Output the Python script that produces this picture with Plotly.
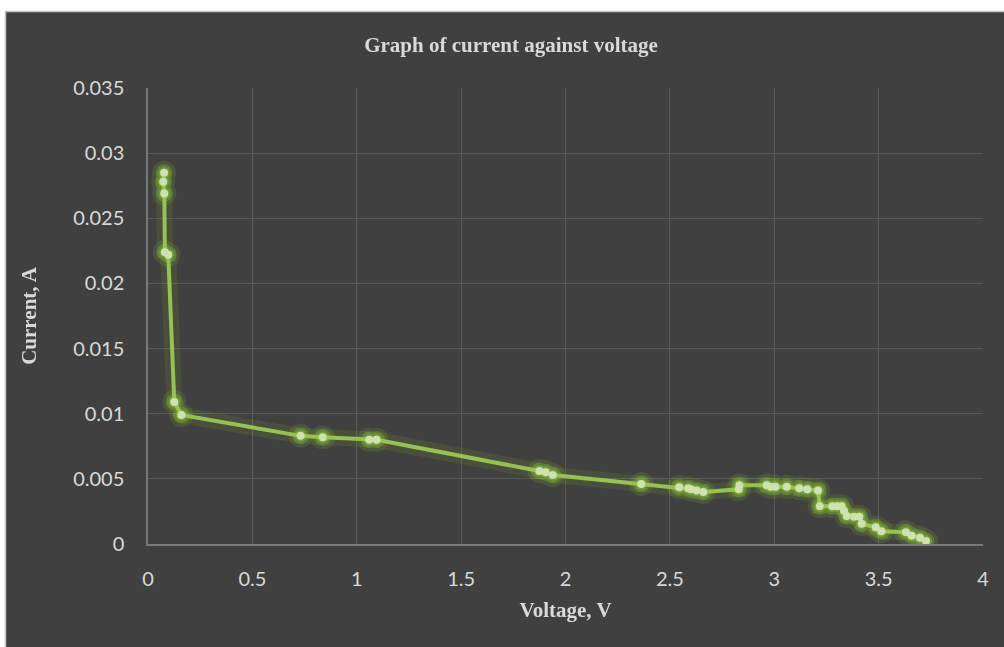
import plotly.graph_objects as go

# Measured I-V readings (in order of measurement)
voltage = [0.077, 0.073, 0.078, 0.081, 0.097, 0.126, 0.160, 0.731, 0.837, 1.060,
           1.095, 1.875, 1.905, 1.939, 2.363, 2.545, 2.588, 2.601, 2.628, 2.660,
           2.830, 2.833, 2.964, 2.983, 3.005, 3.060, 3.120, 3.158, 3.210, 3.218,
           3.278, 3.302, 3.323, 3.334, 3.347, 3.382, 3.408, 3.419, 3.486, 3.513,
           3.631, 3.658, 3.698, 3.727]
current = [0.0285, 0.0278, 0.0269, 0.0224, 0.0222, 0.0109, 0.0099, 0.0083, 0.0082, 0.0080,
           0.0080, 0.0056, 0.0055, 0.0053, 0.0046, 0.00435, 0.00427, 0.0042, 0.0041, 0.0040,
           0.0042, 0.0045, 0.0045, 0.0044, 0.0044, 0.0044, 0.00427, 0.0042, 0.0041, 0.0029,
           0.0029, 0.0029, 0.0029, 0.00256, 0.00215, 0.0021, 0.0021, 0.00156, 0.00128, 0.00097,
           0.0009, 0.00064, 0.00048, 0.00023]

x_ticks = [0, 0.5, 1, 1.5, 2, 2.5, 3, 3.5, 4]
x_tick_text = ["0", "0.5", "1", "1.5", "2", "2.5", "3", "3.5", "4"]
y_ticks = [0, 0.005, 0.01, 0.015, 0.02, 0.025, 0.03, 0.035]
y_tick_text = ["0", "0.005", "0.01", "0.015", "0.02", "0.025", "0.03", "0.035"]

W, H = 1004, 647
L, R, T, B = 148, 21, 88, 103
pw, ph = W - L - R, H - T - B

BG = "#404040"
TXT = "#d9d9d9"
GLOW = "#8fd42c"

fig = go.Figure()

# soft glow around the series
fig.add_trace(go.Scatter(x=voltage, y=current, mode="lines",
                         line=dict(color=GLOW, width=16), opacity=0.10,
                         hoverinfo="skip", showlegend=False))
fig.add_trace(go.Scatter(x=voltage, y=current, mode="markers",
                         marker=dict(color=GLOW, size=24, line=dict(width=0)), opacity=0.14,
                         hoverinfo="skip", showlegend=False))
fig.add_trace(go.Scatter(x=voltage, y=current, mode="markers",
                         marker=dict(color=GLOW, size=17, line=dict(width=0)), opacity=0.28,
                         hoverinfo="skip", showlegend=False))
fig.add_trace(go.Scatter(x=voltage, y=current, mode="markers",
                         marker=dict(color=GLOW, size=12, line=dict(width=0)), opacity=0.35,
                         hoverinfo="skip", showlegend=False))

# main line with markers
fig.add_trace(go.Scatter(x=voltage, y=current, mode="lines",
                         line=dict(color="#95c44e", width=4),
                         showlegend=False))
fig.add_trace(go.Scatter(x=voltage, y=current, mode="markers",
                         marker=dict(color="#cde2b0", size=8, line=dict(width=0)),
                         showlegend=False))

def px(xp):
    return (xp - L) / pw

def py(yp):
    return (H - B - yp) / ph

# dark chart area with thin light border, white outside
fig.add_shape(type="rect", xref="paper", yref="paper",
              x0=px(5.5), x1=px(W + 10), y0=py(H + 10), y1=py(11.5),
              fillcolor=BG, line=dict(color="#c4c4c4", width=1.5), layer="below")

fig.update_layout(
    width=W, height=H,
    margin=dict(l=L, r=R, t=T, b=B),
    paper_bgcolor="white",
    plot_bgcolor="rgba(0,0,0,0)",
    title=dict(text="<b>Graph of current against voltage</b>",
               x=511 / W, xref="container", xanchor="center",
               y=1 - 45 / H, yref="container", yanchor="middle",
               font=dict(family="Liberation Serif", size=21, color=TXT)),
    xaxis=dict(range=[0, 4], tickvals=x_ticks, ticktext=x_tick_text,
               showgrid=True, gridcolor="#5a5a5a", gridwidth=1,
               showline=True, linecolor="#7a7a7a", linewidth=1.5,
               zeroline=False, ticks="", ticklabelstandoff=16,
               tickfont=dict(family="Lato", size=20, color=TXT),
               title=dict(text="<b>Voltage, V</b>", standoff=14,
                          font=dict(family="Liberation Serif", size=21, color=TXT))),
    yaxis=dict(range=[0, 0.035], tickvals=y_ticks, ticktext=y_tick_text,
               showgrid=True, gridcolor="#5a5a5a", gridwidth=1,
               showline=True, linecolor="#7a7a7a", linewidth=1.5,
               zeroline=False, ticks="", ticklabelstandoff=18,
               tickfont=dict(family="Lato", size=20, color=TXT),
               title=dict(text="<b>Current, A</b>", standoff=31,
                          font=dict(family="Liberation Serif", size=21, color=TXT))),
)

fig.write_html("out.html")
